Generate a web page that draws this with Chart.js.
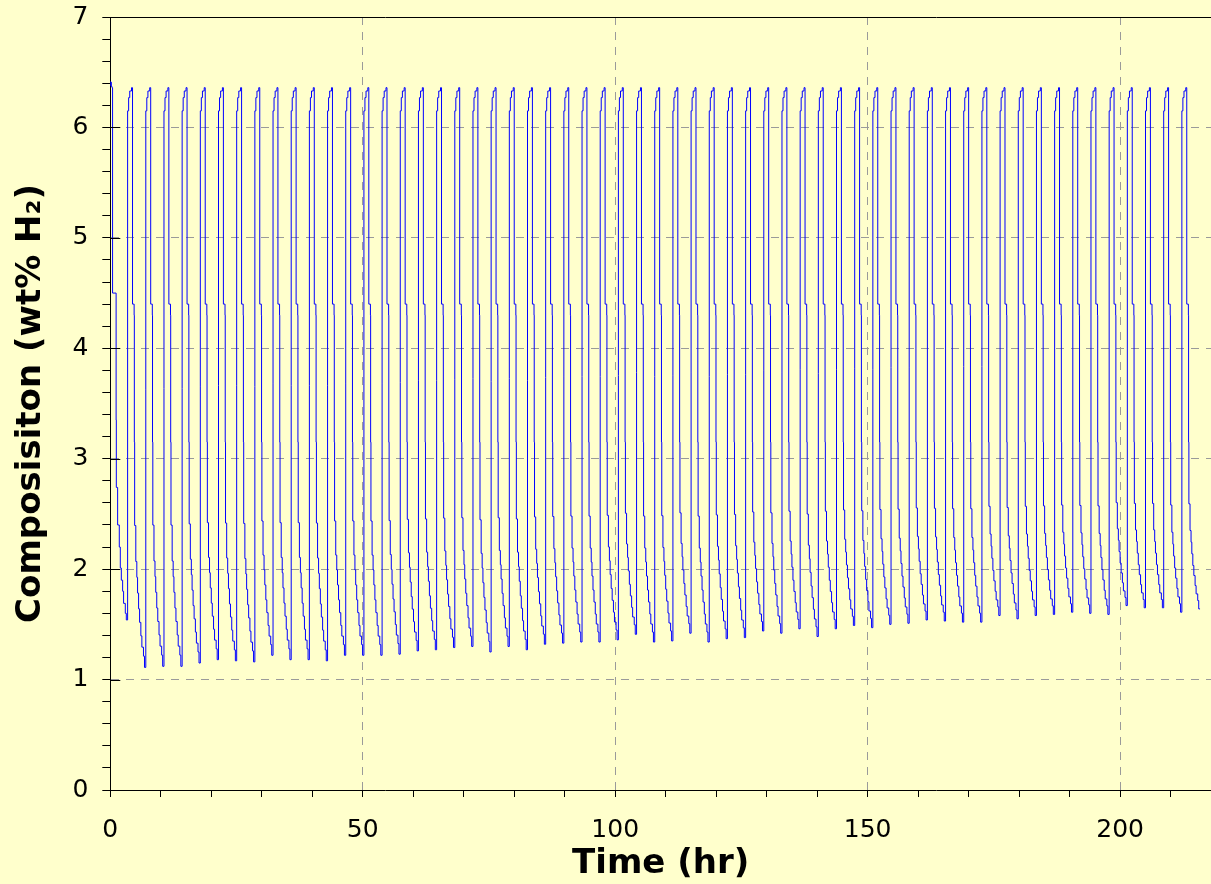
<!DOCTYPE html>
<html>
<head>
<meta charset="utf-8">
<script src="https://cdn.jsdelivr.net/npm/chart.js@4.4.1/dist/chart.umd.min.js"></script>
<style>
  html, body { margin: 0; padding: 0; background: #ffffcc; }
</style>
</head>
<body>
<canvas id="cycleChart" width="1211" height="884"></canvas>
<script>
// first desorption at the left edge (hr, wt% H2)
const firstTime  = [0, 0.1, 0.2, 0.35, 0.45, 1.15, 1.19, 1.45, 1.78, 1.98, 2.18, 2.44, 2.63, 2.97, 3.17, 3.43]
const firstValue = [6.42, 6.38, 6.41, 6.37, 6.36, 4.5, 3.35, 2.74, 2.40, 2.20, 2.01, 1.90, 1.80, 1.69, 1.60, 1.54]

// start of each absorption (hr)
const cycleStart = [
  3.6, 7.2, 10.8, 14.4, 18.0, 21.6, 25.2, 28.8, 32.4, 36.0,
  39.6, 43.2, 46.8, 50.4, 54.0, 57.6, 61.2, 64.8, 68.4, 72.0,
  75.6, 79.2, 82.8, 86.4, 90.0, 93.6, 97.2, 100.8, 104.4, 108.0,
  111.6, 115.2, 118.8, 122.4, 126.0, 129.6, 133.2, 136.8, 140.4, 144.0,
  147.6, 151.2, 154.8, 158.4, 162.0, 165.6, 169.2, 172.8, 176.4, 180.0,
  183.6, 187.2, 190.8, 194.4, 198.0, 201.6, 205.2, 208.8, 212.4
]

// lowest composition reached at the end of each cycle (wt% H2)
const cycleMin = [
  1.11, 1.12, 1.12, 1.15, 1.18, 1.17, 1.16, 1.22, 1.18, 1.18,
  1.17, 1.22, 1.22, 1.22, 1.23, 1.26, 1.27, 1.29, 1.30, 1.25,
  1.30, 1.27, 1.32, 1.33, 1.34, 1.34, 1.36, 1.41, 1.34, 1.35,
  1.42, 1.34, 1.37, 1.38, 1.44, 1.42, 1.46, 1.39, 1.46, 1.49,
  1.47, 1.50, 1.51, 1.54, 1.53, 1.52, 1.52, 1.58, 1.55, 1.58,
  1.59, 1.61, 1.60, 1.59, 1.67, 1.65, 1.65, 1.61, 1.64
]

// shape of one cycle, hours after the start of absorption
const riseDt    = [0.03, 0.25, 0.6, 0.8]
const riseValue = [6.15, 6.27, 6.33, 6.36]
const dropDt    = [1.12, 1.16]
const dropValue = [4.40, 4.30]
const dropLevel = 3.15
const decayDt   = [1.22, 1.45, 1.65, 1.8, 2.0, 2.2, 2.45, 2.65, 2.97, 3.17, 3.43]
const decayFrac = [1.0, 0.63, 0.47, 0.40, 0.33, 0.26, 0.20, 0.14, 0.09, 0.05, 0]

// axis ranges and labelled x ticks
const xMax = 218
const yMax = 7
const xLabelValues = [0, 50, 100, 150, 200]

const points = firstTime.map((t, i) => ({ x: t, y: firstValue[i] }))
cycleStart.forEach((t0, k) => {
  const low = cycleMin[k]
  riseDt.forEach((d, i) => points.push({ x: t0 + d, y: riseValue[i] }))
  dropDt.forEach((d, i) => points.push({ x: t0 + d, y: dropValue[i] }))
  decayDt.forEach((d, i) => points.push({ x: t0 + d, y: low + decayFrac[i] * (dropLevel - low) }))
})

const fontFamily = "'DejaVu Sans', Verdana, sans-serif"
const gridGray = '#9a9a9a'
const isWhole = v => Math.abs(v - Math.round(v)) < 1e-6

// major y ticks also reach into the plot a little
const innerMarks = {
  id: 'innerMarks',
  afterDatasetsDraw(chart) {
    const { ctx, chartArea, scales: { y } } = chart
    ctx.save()
    ctx.strokeStyle = '#000'
    ctx.lineWidth = 1
    y.ticks.forEach(t => {
      if (!isWhole(t.value)) return
      const py = Math.round(y.getPixelForValue(t.value)) + 0.5
      ctx.beginPath()
      ctx.moveTo(chartArea.left, py)
      ctx.lineTo(chartArea.left + 10, py)
      ctx.stroke()
    })
    ctx.restore()
  }
}

// x tick labels, placed from the x scale below its tick marks
const xLabels = {
  id: 'xLabels',
  afterDraw(chart) {
    const { ctx, scales: { x } } = chart
    ctx.save()
    ctx.font = '25px ' + fontFamily
    ctx.fillStyle = '#000'
    ctx.textAlign = 'center'
    ctx.textBaseline = 'middle'
    xLabelValues.forEach(v => {
      ctx.fillText(String(v), x.getPixelForValue(v), x.top + 40)
    })
    ctx.restore()
  }
}

new Chart(document.getElementById('cycleChart'), {
  type: 'line',
  data: {
    datasets: [{
      data: points,
      borderColor: '#0000ff',
      borderWidth: 1,
      pointRadius: 0,
      stepped: 'after',
      fill: false
    }]
  },
  options: {
    responsive: false,
    animation: false,
    layout: { padding: { top: 0, right: 0, bottom: 0, left: 0 } },
    plugins: {
      legend: { display: false },
      tooltip: { enabled: false }
    },
    scales: {
      x: {
        type: 'linear',
        position: 'bottom',
        min: 0,
        max: xMax,
        ticks: {
          display: false,
          stepSize: 10,
          includeBounds: false,
          autoSkip: false,
          maxRotation: 0
        },
        grid: {
          color: ctx => (ctx.tick && ctx.tick.value % 50 === 0 && ctx.tick.value > 0 ? gridGray : 'rgba(0,0,0,0)'),
          tickColor: '#000',
          tickLength: 7
        },
        border: { display: true, color: '#000', width: 1, dash: [8, 7] },
        title: {
          display: true,
          text: 'Time (hr)',
          color: '#000',
          font: { family: fontFamily, size: 34, weight: 'bold', lineHeight: 1.1 },
          padding: { top: 48.3, bottom: 1.3 }
        }
      },
      xTop: {
        type: 'linear',
        position: 'top',
        min: 0,
        max: xMax,
        ticks: { display: false },
        grid: { display: false, drawTicks: false },
        border: { display: true, color: '#000', width: 1 }
      },
      y: {
        min: 0,
        max: yMax,
        ticks: {
          stepSize: 0.2,
          autoSkip: false,
          padding: 14,
          color: '#000',
          font: { family: fontFamily, size: 25, lineHeight: 0.24 },
          callback: v => (isWhole(v) ? String(Math.round(v)) : '')
        },
        grid: {
          color: ctx => (ctx.tick && isWhole(ctx.tick.value) && ctx.tick.value > 0 && ctx.tick.value < yMax ? gridGray : 'rgba(0,0,0,0)'),
          tickColor: '#000',
          tickLength: 8
        },
        border: { display: true, color: '#000', width: 1, dash: [8, 7] },
        title: {
          display: true,
          text: 'Composisiton (wt% H₂)',
          color: '#000',
          font: { family: fontFamily, size: 34, weight: 'bold', lineHeight: 1.1 },
          padding: { top: 12, bottom: 9 }
        }
      }
    }
  },
  plugins: [innerMarks, xLabels]
})
</script>
</body>
</html>
